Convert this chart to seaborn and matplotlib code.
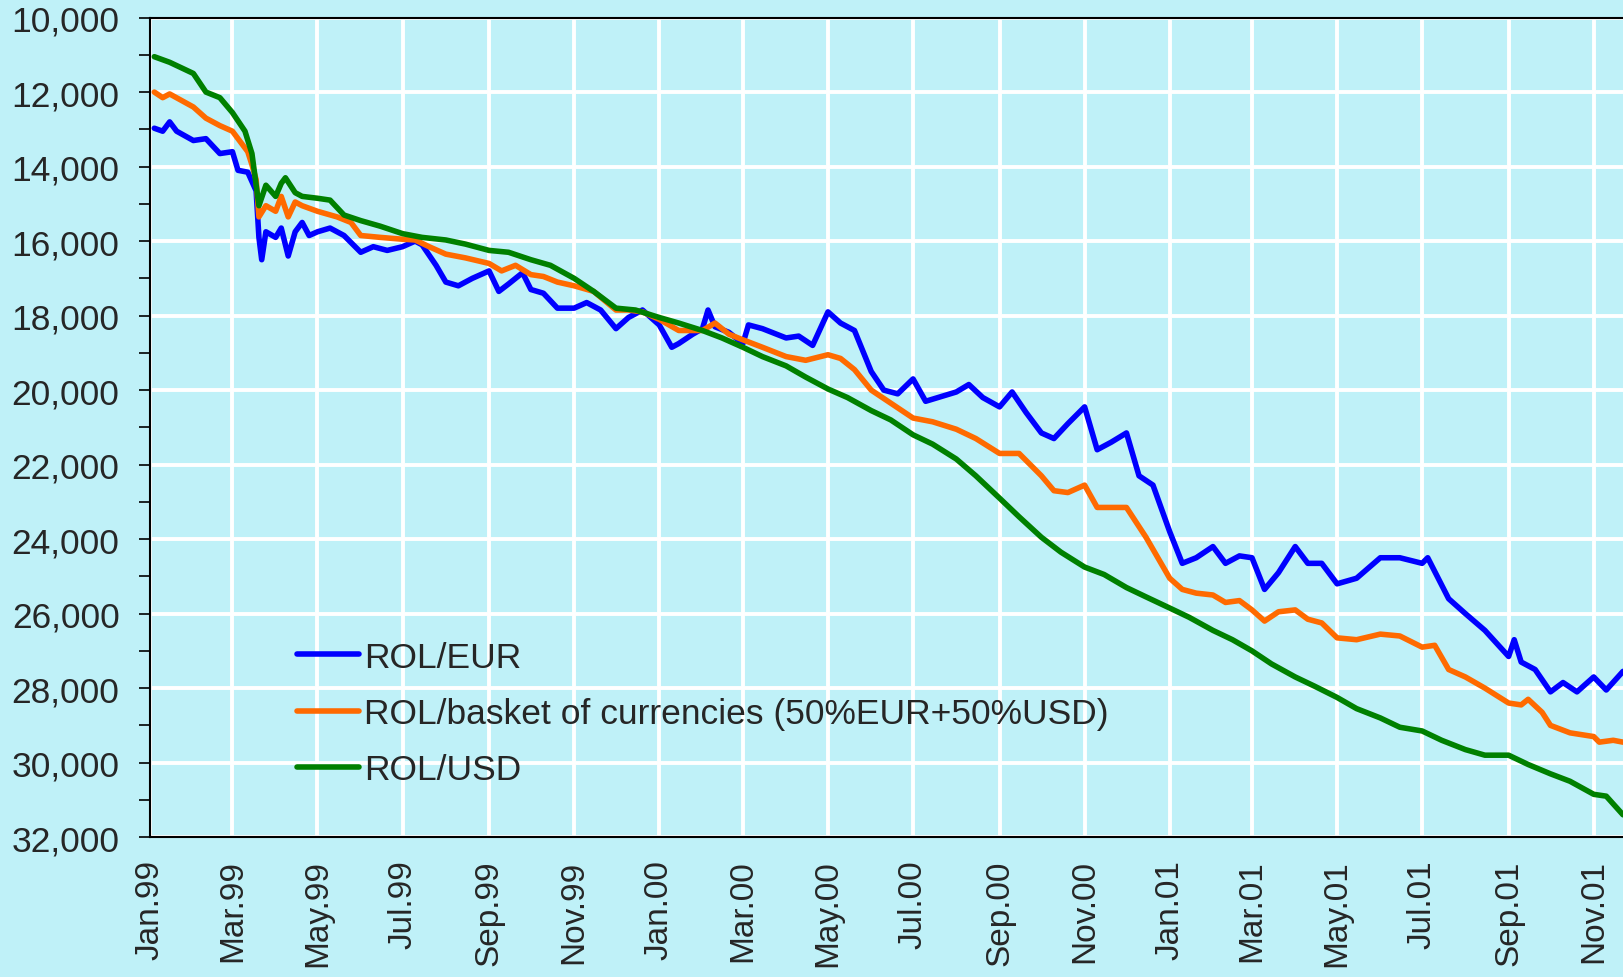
import pandas as pd
import matplotlib.pyplot as plt
from matplotlib.ticker import FuncFormatter, MultipleLocator
import seaborn as sns

# ROL/EUR
eur_dates = ["1999-01-04", "1999-01-10", "1999-01-15", "1999-01-20", "1999-02-01", "1999-02-10",
             "1999-02-20", "1999-03-01", "1999-03-05", "1999-03-12", "1999-03-18", "1999-03-20",
             "1999-03-22", "1999-03-25", "1999-04-01", "1999-04-05", "1999-04-10", "1999-04-15",
             "1999-04-20", "1999-04-25", "1999-05-01", "1999-05-10", "1999-05-20", "1999-06-01",
             "1999-06-10", "1999-06-20", "1999-07-01", "1999-07-10", "1999-07-15", "1999-07-25",
             "1999-08-01", "1999-08-10", "1999-08-20", "1999-09-01", "1999-09-08", "1999-09-15",
             "1999-09-25", "1999-10-01", "1999-10-10", "1999-10-20", "1999-11-01", "1999-11-10",
             "1999-11-20", "1999-12-01", "1999-12-10", "1999-12-20", "2000-01-01", "2000-01-10",
             "2000-01-15", "2000-01-25", "2000-02-01", "2000-02-05", "2000-02-10", "2000-02-20",
             "2000-03-01", "2000-03-05", "2000-03-15", "2000-04-01", "2000-04-10", "2000-04-20",
             "2000-05-01", "2000-05-10", "2000-05-20", "2000-06-01", "2000-06-10", "2000-06-20",
             "2000-07-01", "2000-07-10", "2000-08-01", "2000-08-10", "2000-08-20", "2000-09-01",
             "2000-09-10", "2000-09-20", "2000-10-01", "2000-10-10", "2000-10-20", "2000-11-01",
             "2000-11-10", "2000-11-20", "2000-12-01", "2000-12-10", "2000-12-20", "2001-01-01",
             "2001-01-10", "2001-01-20", "2001-02-01", "2001-02-10", "2001-02-20", "2001-03-01",
             "2001-03-10", "2001-03-20", "2001-04-01", "2001-04-10", "2001-04-20", "2001-05-01",
             "2001-05-15", "2001-06-01", "2001-06-15", "2001-07-01", "2001-07-05", "2001-07-20",
             "2001-08-01", "2001-08-15", "2001-09-01", "2001-09-05", "2001-09-10", "2001-09-20",
             "2001-10-01", "2001-10-10", "2001-10-20", "2001-11-01", "2001-11-10", "2001-11-22"]
eur_vals = [12970, 13050, 12800, 13050, 13300, 13250,
            13650, 13600, 14100, 14150, 14650, 15900,
            16500, 15750, 15900, 15650, 16400, 15750,
            15500, 15850, 15750, 15650, 15850, 16300,
            16150, 16250, 16150, 16000, 16100, 16650,
            17100, 17200, 17000, 16800, 17350, 17150,
            16850, 17300, 17400, 17800, 17800, 17650,
            17850, 18350, 18050, 17850, 18250, 18850,
            18750, 18500, 18350, 17850, 18300, 18450,
            18750, 18250, 18350, 18600, 18550, 18800,
            17900, 18200, 18400, 19500, 20000, 20100,
            19700, 20300, 20050, 19850, 20200, 20450,
            20050, 20600, 21150, 21300, 20900, 20450,
            21600, 21400, 21150, 22300, 22550, 23800,
            24650, 24500, 24200, 24650, 24450, 24500,
            25350, 24900, 24200, 24650, 24650, 25200,
            25050, 24500, 24500, 24650, 24500, 25600,
            26000, 26450, 27150, 26700, 27300, 27500,
            28100, 27850, 28100, 27700, 28050, 27550]

# ROL/basket (50% EUR + 50% USD)
bsk_dates = ["1999-01-04", "1999-01-10", "1999-01-15", "1999-02-01", "1999-02-10", "1999-02-20",
             "1999-03-01", "1999-03-08", "1999-03-12", "1999-03-15", "1999-03-18", "1999-03-20",
             "1999-03-25", "1999-04-01", "1999-04-05", "1999-04-10", "1999-04-15", "1999-04-20",
             "1999-05-01", "1999-05-15", "1999-05-25", "1999-06-01", "1999-06-15", "1999-07-01",
             "1999-07-10", "1999-07-20", "1999-08-01", "1999-08-15", "1999-09-01", "1999-09-10",
             "1999-09-20", "1999-10-01", "1999-10-10", "1999-10-20", "1999-11-01", "1999-11-15",
             "1999-12-01", "1999-12-10", "1999-12-20", "2000-01-01", "2000-01-15", "2000-02-01",
             "2000-02-10", "2000-02-20", "2000-03-01", "2000-03-15", "2000-04-01", "2000-04-15",
             "2000-05-01", "2000-05-10", "2000-05-20", "2000-06-01", "2000-06-15", "2000-07-01",
             "2000-07-15", "2000-08-01", "2000-08-15", "2000-09-01", "2000-09-15", "2000-10-01",
             "2000-10-10", "2000-10-20", "2000-11-01", "2000-11-10", "2000-11-20", "2000-12-01",
             "2000-12-15", "2001-01-01", "2001-01-10", "2001-01-20", "2001-02-01", "2001-02-10",
             "2001-02-20", "2001-03-01", "2001-03-10", "2001-03-20", "2001-04-01", "2001-04-10",
             "2001-04-20", "2001-05-01", "2001-05-15", "2001-06-01", "2001-06-15", "2001-07-01",
             "2001-07-10", "2001-07-20", "2001-08-01", "2001-08-15", "2001-09-01", "2001-09-10",
             "2001-09-15", "2001-09-25", "2001-10-01", "2001-10-15", "2001-11-01", "2001-11-05",
             "2001-11-15", "2001-11-22"]
bsk_vals = [12000, 12150, 12050, 12400, 12700, 12900,
            13050, 13400, 13600, 13950, 14350, 15350,
            15050, 15200, 14800, 15350, 14950, 15050,
            15200, 15350, 15500, 15850, 15900, 15950,
            15970, 16150, 16350, 16450, 16600, 16800,
            16650, 16900, 16950, 17100, 17200, 17350,
            17850, 17850, 17900, 18100, 18400, 18400,
            18200, 18500, 18650, 18850, 19100, 19200,
            19050, 19150, 19450, 20000, 20350, 20750,
            20850, 21050, 21300, 21700, 21700, 22300,
            22700, 22750, 22550, 23150, 23150, 23150,
            23950, 25050, 25350, 25450, 25500, 25700,
            25650, 25900, 26200, 25950, 25900, 26150,
            26250, 26650, 26700, 26550, 26600, 26900,
            26850, 27500, 27700, 28000, 28400, 28450,
            28300, 28650, 29000, 29200, 29300, 29450,
            29400, 29450]

# ROL/USD
usd_dates = ["1999-01-04", "1999-01-15", "1999-02-01", "1999-02-10", "1999-02-20", "1999-03-01",
             "1999-03-10", "1999-03-15", "1999-03-20", "1999-03-25", "1999-04-01", "1999-04-05",
             "1999-04-08", "1999-04-15", "1999-04-20", "1999-05-01", "1999-05-10", "1999-05-20",
             "1999-06-01", "1999-06-15", "1999-07-01", "1999-07-15", "1999-08-01", "1999-08-15",
             "1999-09-01", "1999-09-15", "1999-10-01", "1999-10-15", "1999-11-01", "1999-11-15",
             "1999-12-01", "1999-12-15", "2000-01-01", "2000-01-15", "2000-02-01", "2000-02-15",
             "2000-03-01", "2000-03-15", "2000-04-01", "2000-04-15", "2000-05-01", "2000-05-15",
             "2000-06-01", "2000-06-15", "2000-07-01", "2000-07-15", "2000-08-01", "2000-08-15",
             "2000-09-01", "2000-09-15", "2000-10-01", "2000-10-15", "2000-11-01", "2000-11-15",
             "2000-12-01", "2000-12-15", "2001-01-01", "2001-01-15", "2001-02-01", "2001-02-15",
             "2001-03-01", "2001-03-15", "2001-04-01", "2001-04-15", "2001-05-01", "2001-05-15",
             "2001-06-01", "2001-06-15", "2001-07-01", "2001-07-15", "2001-08-01", "2001-08-15",
             "2001-09-01", "2001-09-15", "2001-10-01", "2001-10-15", "2001-11-01", "2001-11-10",
             "2001-11-22"]
usd_vals = [11050, 11200, 11500, 12000, 12150, 12550,
            13050, 13650, 15050, 14500, 14800, 14450,
            14300, 14700, 14800, 14850, 14900, 15300,
            15450, 15600, 15800, 15900, 15970, 16080,
            16250, 16300, 16500, 16650, 17000, 17350,
            17800, 17850, 18050, 18200, 18400, 18600,
            18850, 19100, 19350, 19650, 19970, 20200,
            20550, 20800, 21200, 21450, 21850, 22300,
            22900, 23400, 23950, 24350, 24750, 24950,
            25300, 25550, 25850, 26100, 26450, 26700,
            27000, 27350, 27700, 27950, 28250, 28550,
            28800, 29050, 29150, 29400, 29650, 29800,
            29800, 30050, 30300, 30500, 30850, 30900,
            31400]

tick_labels = ["Jan.99", "Mar.99", "May.99", "Jul.99", "Sep.99", "Nov.99",
               "Jan.00", "Mar.00", "May.00", "Jul.00", "Sep.00", "Nov.00",
               "Jan.01", "Mar.01", "May.01", "Jul.01", "Sep.01", "Nov.01"]
tick_dates = ["1999-01-01", "1999-03-01", "1999-05-01", "1999-07-01", "1999-09-01", "1999-11-01",
              "2000-01-01", "2000-03-01", "2000-05-01", "2000-07-01", "2000-09-01", "2000-11-01",
              "2001-01-01", "2001-03-01", "2001-05-01", "2001-07-01", "2001-09-01", "2001-11-01"]

bg = "#bff1f8"
sns.set_style("white")
plt.rcParams["font.family"] = ["Liberation Sans", "DejaVu Sans"]

fig = plt.figure(figsize=(16.23, 9.78), dpi=100, facecolor=bg)
ax = fig.add_axes([0.0925, 0.143, 0.9075, 0.838])
ax.set_facecolor(bg)

series = [
    (eur_dates, eur_vals, "ROL/EUR", "#0000ff"),
    (bsk_dates, bsk_vals, "ROL/basket of currencies (50%EUR+50%USD)", "#ff6a00"),
    (usd_dates, usd_vals, "ROL/USD", "#008000"),
]
for d, v, name, col in series:
    sns.lineplot(x=pd.to_datetime(d), y=v, ax=ax, color=col, linewidth=4, label=name)

ax.set_xlim(pd.Timestamp("1999-01-01"), pd.Timestamp("2001-11-22"))
ax.set_ylim(32000, 10000)
ax.set_xticks(pd.to_datetime(tick_dates))
ax.set_xticklabels(tick_labels, rotation=90, fontsize=24)
ax.yaxis.set_major_locator(MultipleLocator(2000))
ax.yaxis.set_minor_locator(MultipleLocator(1000))
ax.yaxis.set_major_formatter(FuncFormatter(lambda v, p: f"{int(v):,}"))
ax.tick_params(axis="y", which="major", labelsize=25.5, length=8, width=1.2, color="black",
               left=True, pad=14)
ax.tick_params(axis="y", which="minor", length=8, width=1.2, color="black", left=True)
ax.tick_params(axis="x", length=0, pad=16)

ax.grid(True, which="major", color="white", linewidth=2.8)
ax.set_axisbelow(True)
for s in ["left", "bottom", "top"]:
    ax.spines[s].set_color("black")
    ax.spines[s].set_linewidth(1.5)
ax.spines["right"].set_visible(False)
ax.set_xlabel("")
ax.set_ylabel("")

leg = ax.legend(loc="upper left", bbox_to_anchor=(0.090, 0.257), frameon=False, fontsize=25.5,
                handlelength=1.75, handletextpad=0.15, labelspacing=0.66, borderaxespad=0)

fig.savefig("out.png", dpi=100, facecolor=bg)
